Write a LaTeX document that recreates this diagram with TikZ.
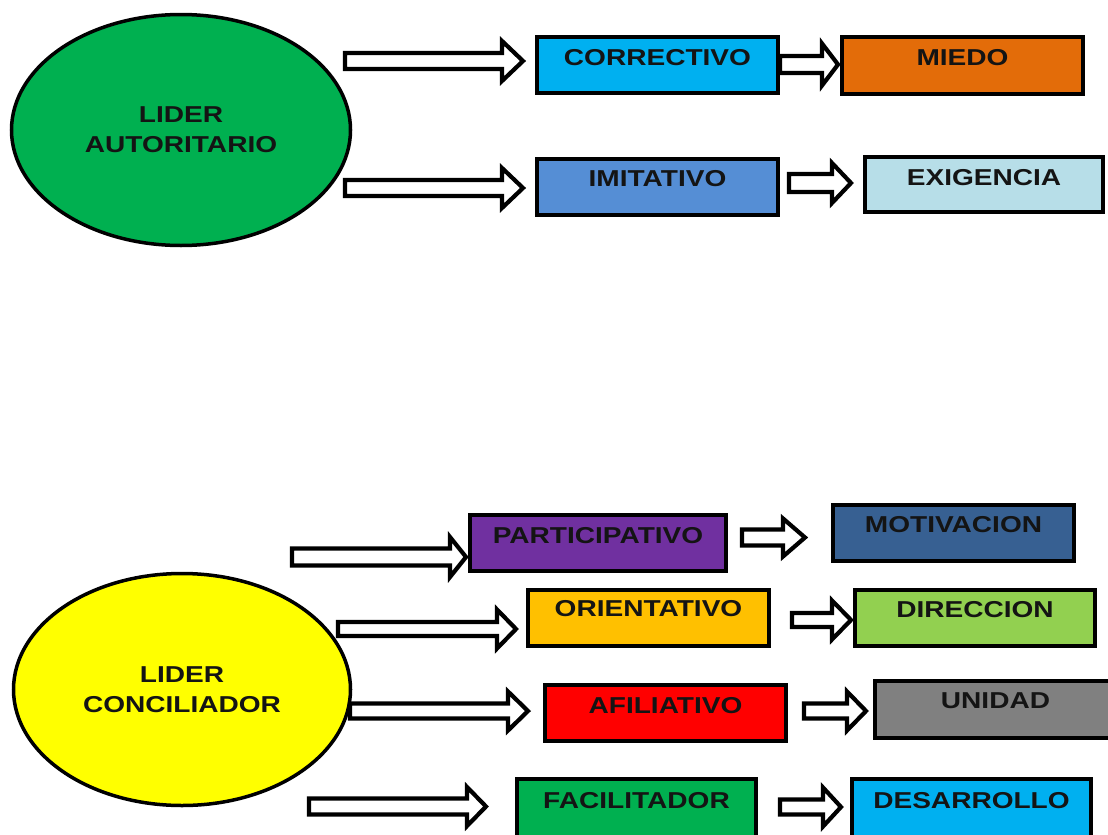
\documentclass[tikz,border=0pt]{standalone}
\usepackage{fontspec}
\setmainfont{Liberation Sans}[FakeStretch=1.22]
\usetikzlibrary{shapes.geometric}
\definecolor{cCor}{HTML}{00B0F0}
\definecolor{cMie}{HTML}{E36C09}
\definecolor{cImi}{HTML}{558ED5}
\definecolor{cExi}{HTML}{B7DEE8}
\definecolor{cPar}{HTML}{7030A0}
\definecolor{cMot}{HTML}{376092}
\definecolor{cOri}{HTML}{FFC000}
\definecolor{cDir}{HTML}{92D050}
\definecolor{cAfi}{HTML}{FF0000}
\definecolor{cUni}{HTML}{808080}
\definecolor{cFac}{HTML}{00B050}
\definecolor{cDes}{HTML}{00B0F0}
\definecolor{cAut}{HTML}{00B050}
\definecolor{cCon}{HTML}{FFFF00}
\definecolor{txt}{HTML}{141414}
\newcommand\barrow[6]{%
  \draw[blockarr] ({#1},{#4-#5}) -- ({#2},{#4-#5}) -- ({#2},{#4-#6}) -- ({#3},{#4})
    -- ({#2},{#4+#6}) -- ({#2},{#4+#5}) -- ({#1},{#4+#5}) -- cycle;}
\begin{document}
\begin{tikzpicture}[x=1pt,y=-1pt,
  every node/.style={font=\fontsize{23}{30}\selectfont\bfseries, text=txt},
  leader/.style={ellipse, draw=black, line width=3.5pt, inner sep=0pt, align=center},
  catbox/.style={rectangle, draw=black, line width=4.5pt, minimum width=241pt, minimum height=56pt, inner sep=0pt},
  boxtext/.style={anchor=base, inner sep=0pt},
  blockarr/.style={draw=black, fill=white, line width=4.2pt, line join=miter}]
\useasboundingbox (0,0) rectangle (1108,835);
% leaders
\node[leader, fill=cAut, minimum width=339pt, minimum height=231pt] (aut) at (181,130) {LIDER\\AUTORITARIO};
\node[leader, fill=cCon, minimum width=337pt, minimum height=232pt] (con) at (182,689.5) {LIDER\\CONCILIADOR};
% top boxes
\node[catbox, fill=cCor] (cor) at (657.5,65) {};
\node[catbox, fill=cMie, minimum height=57pt] (mie) at (962.5,65.5) {};
\node[catbox, fill=cImi] (imi) at (657.5,187) {};
\node[catbox, fill=cExi, minimum width=238pt, minimum height=55pt] (exi) at (984,184.5) {};
% bottom boxes
\node[catbox, fill=cPar, minimum width=256pt] (par) at (598,543) {};
\node[catbox, fill=cMot] (mot) at (953.5,533) {};
\node[catbox, fill=cOri] (ori) at (648.5,618) {};
\node[catbox, fill=cDir, minimum width=240pt] (dir) at (975,618) {};
\node[catbox, fill=cAfi] (afi) at (665.5,713) {};
\node[catbox, fill=cUni, minimum height=57pt] (uni) at (995.5,709.5) {};
\node[catbox, fill=cFac, minimum width=239pt, minimum height=60pt] (fac) at (636.5,809) {};
\node[catbox, fill=cDes, minimum width=239pt, minimum height=60pt] (des) at (971.5,809) {};
% texts
\node[boxtext] (lcor) at (cor.center |- 0,65) {CORRECTIVO};
\node[boxtext] (lmie) at (mie.center |- 0,65) {MIEDO};
\node[boxtext] (limi) at (imi.center |- 0,186) {IMITATIVO};
\node[boxtext] (lexi) at (exi.center |- 0,185) {EXIGENCIA};
\node[boxtext] (lpar) at (par.center |- 0,543) {PARTICIPATIVO};
\node[boxtext] (lmot) at (mot.center |- 0,532) {MOTIVACION};
\node[boxtext] (lori) at (ori.center |- 0,616) {ORIENTATIVO};
\node[boxtext] (ldir) at (dir.center |- 0,617) {DIRECCION};
\node[boxtext] (lafi) at (afi.center |- 0,713) {AFILIATIVO};
\node[boxtext] (luni) at (uni.center |- 0,708) {UNIDAD};
\node[boxtext] (lfac) at (fac.center |- 0,808) {FACILITADOR};
\node[boxtext] (ldes) at (des.center |- 0,808) {DESARROLLO};
% block arrows
\barrow{345}{502}{523}{61}{8}{20}
\barrow{345}{502}{523}{188}{8}{20}
\barrow{780}{822}{838}{64.5}{8.5}{21}
\barrow{789}{832}{851}{183}{9}{20}
\barrow{292}{450}{466}{557}{8.5}{20}
\barrow{338}{497}{516}{629}{7}{19.5}
\barrow{742}{783}{805}{537.5}{8}{19}
\barrow{792}{832}{851}{620}{7}{19.5}
\barrow{350}{508}{528}{711}{7.5}{19.5}
\barrow{804}{847}{866}{711}{7.5}{19.5}
\barrow{309}{467}{486}{806.5}{8}{19.5}
\barrow{780}{823}{841}{807}{7.5}{19.5}
\end{tikzpicture}
\end{document}
